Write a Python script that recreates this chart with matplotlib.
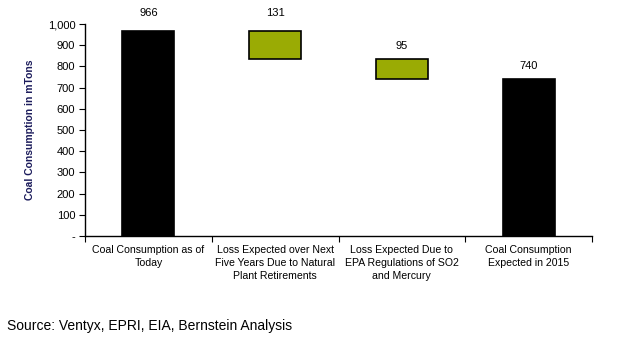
import matplotlib.pyplot as plt
from matplotlib.ticker import FuncFormatter

plt.rcParams['font.family'] = ['Liberation Sans', 'DejaVu Sans']

categories = ['Coal Consumption as of\nToday',
              'Loss Expected over Next\nFive Years Due to Natural\nPlant Retirements',
              'Loss Expected Due to\nEPA Regulations of SO2\nand Mercury',
              'Coal Consumption\nExpected in 2015']
values = [966, -131, -95, 740]
labels = ['966', '131', '95', '740']
is_total = [True, False, False, True]

# waterfall bottoms/heights
bottoms = []
heights = []
running = 0
for v, tot in zip(values, is_total):
    if tot:
        bottoms.append(0)
        heights.append(v)
        running = v
    else:
        running += v
        bottoms.append(running)
        heights.append(-v)

fig = plt.figure(figsize=(6.44, 3.53), dpi=100)
ax = fig.add_axes([85 / 644, 1 - 236 / 353, (592 - 85) / 644, (236 - 24) / 353])

x = list(range(len(categories)))
colors = ['black' if t else '#9aab04' for t in is_total]
ax.bar(x, heights, bottom=bottoms, width=0.41, color=colors,
       edgecolor='black', linewidth=1.2)

for xi, b, h, lab in zip(x, bottoms, heights, labels):
    top = b + h
    off = 9.5 if top > 900 else 5.5
    ax.annotate(lab, (xi, top), xytext=(0, off), textcoords='offset points',
                ha='center', va='bottom', fontsize=8)

ax.set_xlim(-0.5, len(categories) - 0.5)
ax.set_ylim(0, 1000)
ax.set_yticks(range(0, 1001, 100))
ax.yaxis.set_major_formatter(FuncFormatter(lambda v, p: '-' if v == 0 else f'{int(v):,}'))
ax.tick_params(axis='y', labelsize=8, length=4, direction='out', pad=3)

ax.set_xticks([i + 0.5 for i in range(-1, len(categories))])
ax.set_xticklabels([])
ax.tick_params(axis='x', length=4, direction='out')
for xi, cat in zip(x, categories):
    ax.text(xi, -42, cat, ha='center', va='top', fontsize=7.6,
            linespacing=1.4)

for s in ['top', 'right']:
    ax.spines[s].set_visible(False)
ax.spines['left'].set_linewidth(1)
ax.spines['bottom'].set_linewidth(1)

ax.set_ylabel('Coal Consumption in mTons', fontsize=7.5, fontweight='bold',
              color='#1c1c5c', labelpad=9)

fig.text(7 / 644, 1 - 326 / 353, 'Source: Ventyx, EPRI, EIA, Bernstein Analysis',
         ha='left', va='center', fontsize=10)

fig.savefig('out.png', dpi=100)
